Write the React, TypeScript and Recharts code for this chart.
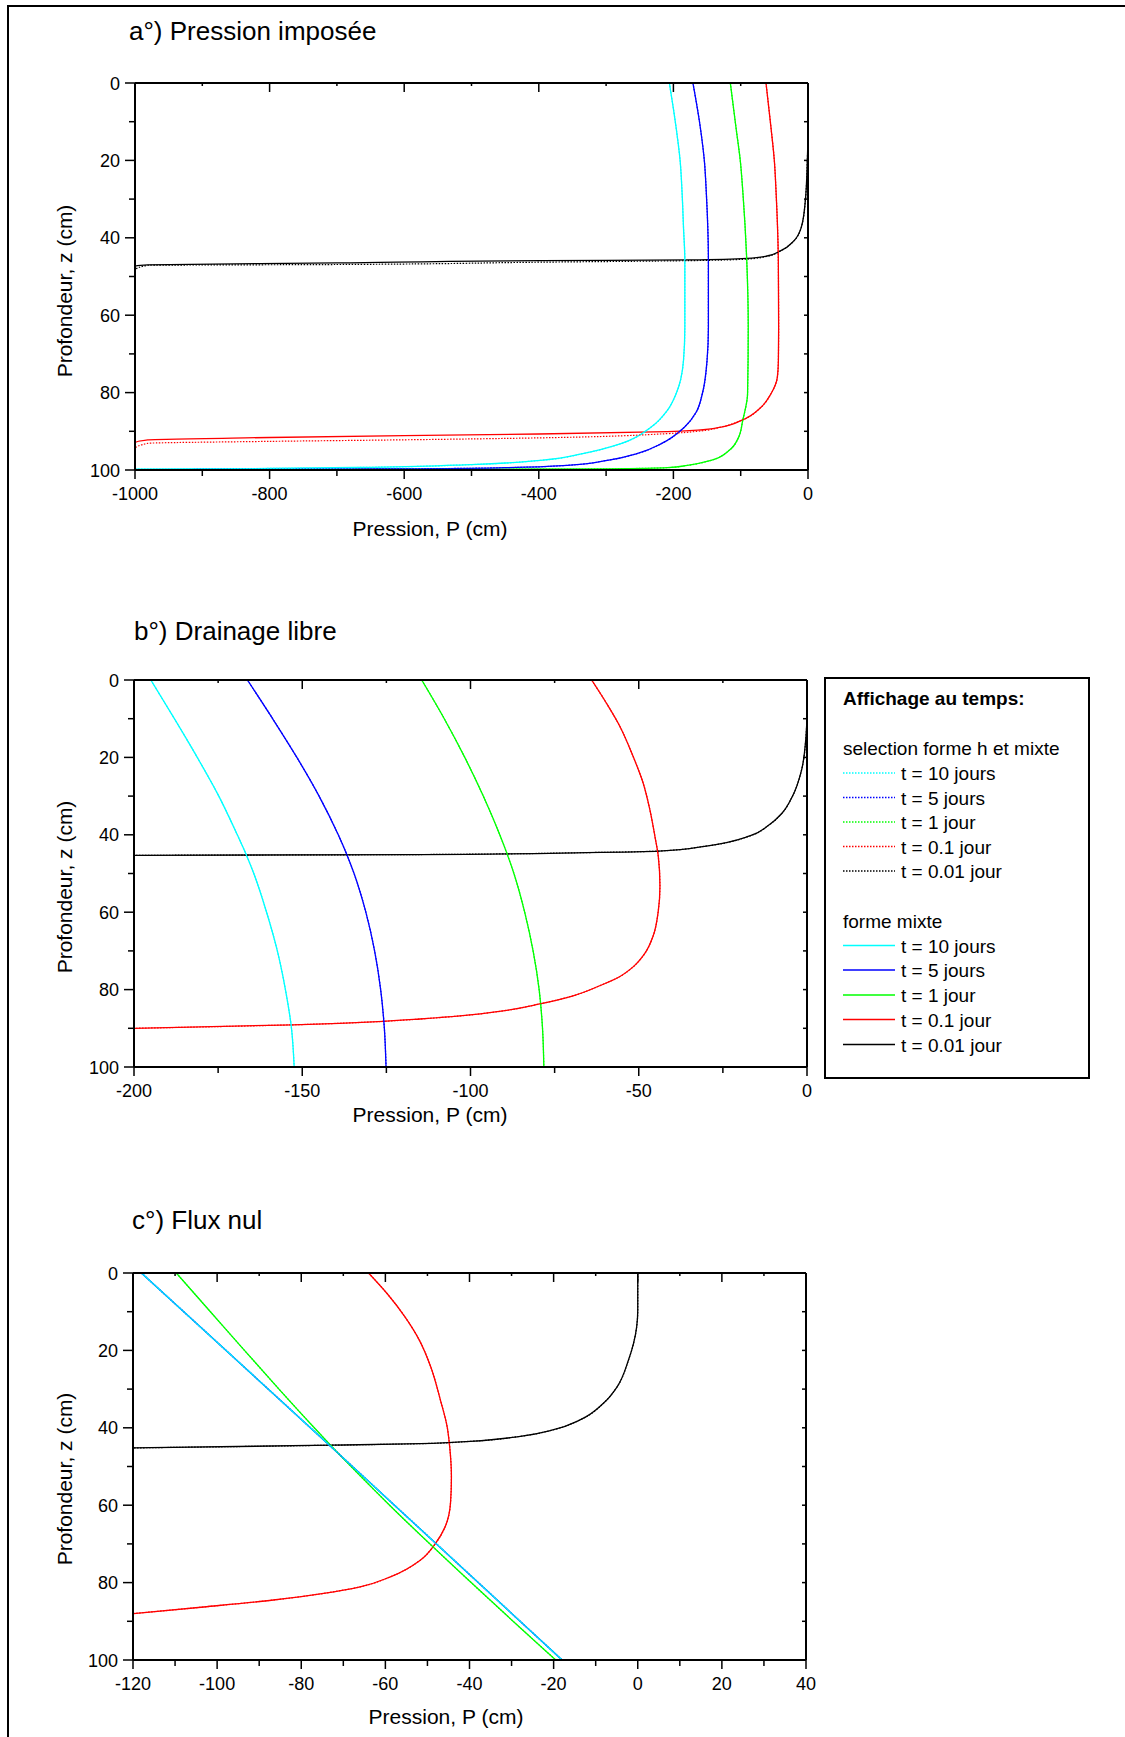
import React from 'react';
import { LineChart, Line, XAxis, YAxis } from 'recharts';

// [pression P (cm), profondeur z (cm)]
type Pt = [number, number];

const FONT = '"Liberation Sans", Arial, Helvetica, sans-serif';

// ---- a°) Pression imposée ----
const aT10: Pt[] = [[-206, 0], [-196, 11.5], [-190, 20.1], [-187, 28.7], [-185, 37.3], [-183, 45.9], [-183, 63.1], [-185, 71.7], [-196, 80.3], [-209, 84.6], [-233, 88.9], [-278, 93.2], [-333, 95.7], [-397, 97.5], [-500, 98.6], [-650, 99.3], [-800, 99.6], [-1000, 99.8]];
const aT5: Pt[] = [[-171, 0], [-160, 11.5], [-154, 20.1], [-151, 28.7], [-148, 45.9], [-148, 63.1], [-150, 71.7], [-157, 80.3], [-166, 85], [-184, 89], [-218, 93.2], [-253, 95.7], [-298, 97.5], [-358, 98.8], [-450, 99.4], [-600, 99.7], [-1000, 99.9]];
const aT1: Pt[] = [[-115.4, 0], [-107, 11.5], [-100.6, 20.1], [-96.6, 28.7], [-91, 45.9], [-88.8, 63.1], [-89.8, 80.3], [-97, 87.2], [-103, 91.5], [-117, 94.9], [-144, 97.5], [-179, 98.8], [-209, 99.4], [-300, 99.7], [-600, 99.85], [-1000, 99.9]];
const aT01: Pt[] = [[-62.4, 0], [-55, 11.5], [-50, 20.1], [-47.3, 28.7], [-44.1, 45.9], [-43.6, 63.1], [-44, 71.7], [-45.5, 76], [-55, 80.3], [-69.8, 83.8], [-99, 87.2], [-129, 88.9], [-164, 89.7], [-209, 90.1], [-400, 90.7], [-600, 91.1], [-800, 91.6], [-981, 92.2], [-1000, 93], [-1000, 100]];
const aT01Sel: Pt[] = [[-62.4, 0], [-55, 11.5], [-50, 20.1], [-47.3, 28.7], [-44.1, 45.9], [-43.6, 63.1], [-44, 71.7], [-45.5, 76], [-55, 80.3], [-69.8, 83.8], [-99, 87.2], [-129, 88.9], [-164, 90], [-209, 90.6], [-400, 91.7], [-600, 92.2], [-800, 92.6], [-981, 93.1], [-1000, 94.5], [-1000, 100]];
const aT001: Pt[] = [[0, 0], [0, 12], [-1, 20.1], [-4, 30.5], [-10, 37.3], [-21, 40.8], [-41, 43.4], [-61, 44.7], [-91, 45.3], [-175, 45.7], [-397, 45.9], [-700, 46.5], [-981, 47], [-1000, 47.3]];
const aT001Sel: Pt[] = [[0, 0], [0, 12], [-1, 20.1], [-4, 30.5], [-10, 37.3], [-21, 40.8], [-41, 43.4], [-61, 44.8], [-91, 45.5], [-175, 45.9], [-397, 46.3], [-700, 46.9], [-981, 47.1], [-1000, 48.2]];

// ---- b°) Drainage libre ----
const bT10: Pt[] = [[-195, 0], [-188, 10], [-181.2, 20], [-174.8, 30], [-169.3, 40], [-166.7, 45], [-164.4, 50], [-160.6, 60], [-157.4, 70], [-155, 80], [-153.2, 90], [-152.4, 100]];
const bT5: Pt[] = [[-166.3, 0], [-158.8, 10], [-151.6, 20], [-145, 30], [-139.3, 40], [-136.8, 45], [-134.6, 50], [-131.1, 60], [-128.5, 70], [-126.7, 80], [-125.6, 90], [-125.1, 100]];
const bT1: Pt[] = [[-114.5, 0], [-107.8, 10], [-101.7, 20], [-96.2, 30], [-91.3, 40], [-89.1, 45], [-87.1, 50], [-83.9, 60], [-81.4, 70], [-79.6, 80], [-78.6, 90], [-78.2, 100]];
const bT01: Pt[] = [[-64, 0], [-59.6, 6], [-55.6, 12], [-51.7, 19.7], [-48.7, 26.6], [-46.7, 33.5], [-45.2, 40.4], [-44.2, 45.5], [-43.7, 53.2], [-44.2, 59.7], [-45.7, 66.1], [-48.3, 70.8], [-51.5, 74], [-56, 76.8], [-61.6, 79], [-69.5, 81.6], [-79.4, 83.7], [-90.3, 85.5], [-103.1, 86.8], [-115, 87.6], [-125.9, 88.2], [-152.7, 89.1], [-200, 90]];
const bT001: Pt[] = [[0, 0], [0, 8.6], [-0.3, 14.6], [-1.6, 23.2], [-4.3, 30], [-7.5, 34.5], [-11.5, 37.6], [-17, 40.3], [-29.9, 42.9], [-44, 44.2], [-65.5, 44.6], [-115, 45.1], [-200, 45.3]];

// ---- c°) Flux nul ----
const cT10: Pt[] = [[-118, 0], [-73.3, 44.5], [-18, 100]];
const cT5: Pt[] = [[-118, 0], [-73.3, 44.5], [-18, 100]];
const cT1: Pt[] = [[-109.7, 0], [-101.6, 10], [-93.5, 20], [-85.3, 30], [-76.9, 40], [-72.6, 45], [-59, 60], [-39.6, 80], [-19.5, 100]];
const cT01: Pt[] = [[-64, 0], [-59.6, 5.3], [-55.3, 11.4], [-51.9, 17.4], [-49.2, 24.3], [-46.9, 32.9], [-45.3, 39.8], [-44.7, 45], [-44.3, 52.7], [-44.5, 59.2], [-45.8, 65.6], [-48.1, 69.9], [-51.7, 74.2], [-58.8, 78.5], [-66, 81.1], [-74.7, 82.8], [-86.6, 84.5], [-103.2, 86.3], [-119.9, 88]];
const cT001: Pt[] = [[0, 0], [0, 9.6], [-1, 18.2], [-2.2, 22.5], [-4.9, 29.4], [-8.1, 33.6], [-13.6, 37.9], [-20, 40.5], [-27.9, 42.2], [-39.8, 43.5], [-51.7, 44.1], [-73, 44.5], [-120, 45.2]];

// axes
const depthTicks = [0, 10, 20, 30, 40, 50, 60, 70, 80, 90, 100];
const depthLabels = [0, 20, 40, 60, 80, 100];
const aPTicks = [-1000, -900, -800, -700, -600, -500, -400, -300, -200, -100, 0];
const aPLabels = [-1000, -800, -600, -400, -200, 0];
const bPTicks = [-200, -175, -150, -125, -100, -75, -50, -25, 0];
const bPLabels = [-200, -150, -100, -50, 0];
const cPTicks = [-120, -110, -100, -90, -80, -70, -60, -50, -40, -30, -20, -10, 0, 10, 20, 30, 40];
const cPLabels = [-120, -100, -80, -60, -40, -20, 0, 20, 40];

const times = ['t = 10 jours', 't = 5 jours', 't = 1 jour', 't = 0.1 jour', 't = 0.01 jour'];
const colors = ['#00ffff', '#0000ff', '#00ff00', '#ff0000', '#000000'];

const PLOT_W = 673;
const PLOT_H = 387;
const AX_L = 90;
const AX_R = 10;
const AX_T = 10;
const AX_B = 50;

type Side = 'bottom' | 'top' | 'left' | 'right';

const tickRenderer = (side: Side, labels: number[]) => (props: any) => {
  const { x, y, payload } = props;
  const v = payload.value as number;
  const major = labels.includes(v);
  const txt = { fontFamily: FONT, fontSize: 18, fill: '#000' };
  const ln = { stroke: '#000', strokeWidth: 1.5 };
  if (side === 'bottom') {
    return (
      <g>
        <line x1={x} y1={y} x2={x} y2={y + (major ? 9 : 6)} {...ln} />
        {major && <text x={x} y={y + 30} textAnchor="middle" {...txt}>{v}</text>}
      </g>
    );
  }
  if (side === 'top') {
    return <line x1={x} y1={y} x2={x} y2={y + (major ? 9 : 3)} {...ln} />;
  }
  if (side === 'left') {
    return (
      <g>
        <line x1={x} y1={y} x2={x - (major ? 10 : 6)} y2={y} {...ln} />
        {major && <text x={x - 15} y={y + 6.5} textAnchor="end" {...txt}>{v}</text>}
      </g>
    );
  }
  return <line x1={x} y1={y} x2={x - 4} y2={y} {...ln} />;
};

interface Curve {
  name: string;
  color: string;
  pts: Pt[];
  dotted?: boolean;
}

interface PanelProps {
  left: number;
  top: number;
  domain: [number, number];
  ticks: number[];
  labels: number[];
  curves: Curve[];
}

const rows = (pts: Pt[]) => pts.map(([p, z]) => ({ p, z }));

function DepthPanel({ left, top, domain, ticks, labels, curves }: PanelProps) {
  const axisLine = { stroke: '#000', strokeWidth: 2 };
  return (
    <div style={{ position: 'absolute', left, top }}>
      <LineChart
        width={AX_L + PLOT_W + AX_R}
        height={AX_T + PLOT_H + AX_B}
        margin={{ top: 0, right: 0, bottom: 0, left: 0 }}
      >
        <XAxis xAxisId="b" orientation="bottom" type="number" dataKey="p" domain={domain} allowDataOverflow
          ticks={ticks} interval={0} height={AX_B} tickSize={0} tickMargin={0} tickLine={false}
          axisLine={axisLine} tick={tickRenderer('bottom', labels)} />
        <XAxis xAxisId="t" orientation="top" type="number" dataKey="p" domain={domain} allowDataOverflow
          ticks={ticks} interval={0} height={AX_T} tickSize={0} tickMargin={0} tickLine={false}
          axisLine={axisLine} tick={tickRenderer('top', labels)} />
        <YAxis yAxisId="l" orientation="left" type="number" domain={[0, 100]} reversed allowDataOverflow
          ticks={depthTicks} interval={0} width={AX_L} tickSize={0} tickMargin={0} tickLine={false}
          axisLine={axisLine} tick={tickRenderer('left', depthLabels)} />
        <YAxis yAxisId="r" orientation="right" type="number" domain={[0, 100]} reversed allowDataOverflow
          ticks={depthTicks} interval={0} width={AX_R} tickSize={0} tickMargin={0} tickLine={false}
          axisLine={axisLine} tick={tickRenderer('right', depthLabels)} />
        {curves.map((c) => (
          // profiles are monotone in depth, so interpolate along the vertical axis
          <Line
            key={c.name}
            xAxisId="b"
            yAxisId="l"
            data={rows(c.pts)}
            dataKey="z"
            type="monotoneY"
            stroke={c.color}
            strokeWidth={c.dotted ? 1.2 : 1.3}
            strokeDasharray={c.dotted ? '1.5 1.5' : undefined}
            dot={false}
            activeDot={false}
            isAnimationActive={false}
          />
        ))}
      </LineChart>
    </div>
  );
}

// longest times are drawn last so 10 jours sits on top, dotted over solid
const series = (set: Pt[][], tag: string, dotted: boolean): Curve[] =>
  set.map((pts, i) => ({ name: `${tag}-${i}`, color: colors[i], pts, dotted })).reverse();

const aCurves = [
  ...series([aT10, aT5, aT1, aT01, aT001], 'a-mixte', false),
  ...series([aT10, aT5, aT1, aT01Sel, aT001Sel], 'a-sel', true),
];
const bCurves = [
  ...series([bT10, bT5, bT1, bT01, bT001], 'b-mixte', false),
  ...series([bT10, bT5, bT1, bT01, bT001], 'b-sel', true),
];
const cCurves = [
  ...series([cT10, cT5, cT1, cT01, cT001], 'c-mixte', false),
  ...series([cT10, cT5, cT1, cT01, cT001], 'c-sel', true),
];

function Legend() {
  const x0 = 843;
  const rowsSel = [780, 804.5, 829, 853.5, 878];
  const rowsMixte = [952.5, 977, 1002, 1026.5, 1051.5];
  const entry = (base: number, i: number, dotted: boolean) => (
    <g key={`${dotted ? 's' : 'm'}${i}`}>
      <line x1={x0} y1={base - 7} x2={x0 + 52} y2={base - 7} stroke={colors[i]} strokeWidth={1.3}
        strokeDasharray={dotted ? '1.5 1.5' : undefined} />
      <text x={901} y={base} fontSize={19}>{times[i]}</text>
    </g>
  );
  return (
    <g fontFamily={FONT} fill="#000">
      <rect x={825} y={678} width={264} height={400} fill="#fff" stroke="#000" strokeWidth={2} />
      <text x={x0} y={705} fontSize={19} fontWeight="bold">Affichage au temps:</text>
      <text x={x0} y={755} fontSize={19}>selection forme h et mixte</text>
      {rowsSel.map((b, i) => entry(b, i, true))}
      <text x={x0} y={927.5} fontSize={19}>forme mixte</text>
      {rowsMixte.map((b, i) => entry(b, i, false))}
    </g>
  );
}

export default function App() {
  const title = { fontFamily: FONT, fontSize: 26, fill: '#000' };
  const axTitle = { fontFamily: FONT, fontSize: 21, fill: '#000', textAnchor: 'middle' as const };
  const yTitle = (cy: number) => (
    <text x={72} y={cy} transform={`rotate(-90 72 ${cy})`} {...axTitle}>Profondeur, z (cm)</text>
  );
  return (
    <div style={{ position: 'absolute', left: 0, top: 0, width: 1125, height: 1737, overflow: 'hidden', background: '#fff' }}>
      <svg width={1125} height={1737} style={{ position: 'absolute', left: 0, top: 0 }}>
        <rect x={8} y={6} width={1300} height={1900} fill="none" stroke="#000" strokeWidth={2} />
        <text x={129} y={40} {...title}>a°) Pression imposée</text>
        <text x={134} y={640} {...title}>b°) Drainage libre</text>
        <text x={132} y={1229} {...title}>c°) Flux nul</text>
        <text x={430} y={536} {...axTitle}>Pression, P (cm)</text>
        <text x={430} y={1122} {...axTitle}>Pression, P (cm)</text>
        <text x={446} y={1724} {...axTitle}>Pression, P (cm)</text>
        {yTitle(291)}
        {yTitle(887)}
        {yTitle(1479)}
        <Legend />
      </svg>
      <DepthPanel left={45} top={73} domain={[-1000, 0]} ticks={aPTicks} labels={aPLabels} curves={aCurves} />
      <DepthPanel left={44} top={670} domain={[-200, 0]} ticks={bPTicks} labels={bPLabels} curves={bCurves} />
      <DepthPanel left={43} top={1263} domain={[-120, 40]} ticks={cPTicks} labels={cPLabels} curves={cCurves} />
    </div>
  );
}
